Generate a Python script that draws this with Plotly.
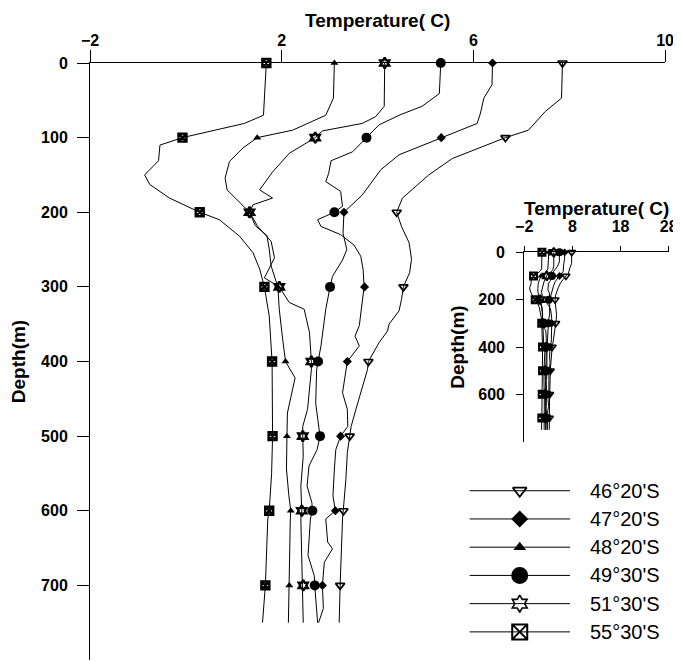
import plotly.graph_objects as go

FONT = "Arial, Liberation Sans, sans-serif"

# ---------------- data ----------------
stations = ["46°20'S", "47°20'S", "48°20'S", "49°30'S", "51°30'S", "55°30'S"]
mark_depths = [0, 100, 200, 300, 400, 500, 600, 700]

# temperatures at the marked depths (deg C)
mark_4620 = [7.86, 6.67, 4.40, 4.54, 3.81, 3.42, 3.29, 3.22]
mark_4720 = [6.40, 5.33, 3.30, 3.73, 3.37, 3.23, 3.12, 2.85]
mark_4820 = [3.10, 1.49, 1.33, 1.92, 2.08, 2.11, 2.19, 2.16]
mark_4930 = [5.32, 3.77, 3.10, 3.01, 2.76, 2.80, 2.64, 2.69]
mark_5130 = [4.15, 2.70, 1.33, 1.95, 2.62, 2.44, 2.42, 2.45]
mark_5530 = [1.68, -0.07, 0.29, 1.64, 1.80, 1.81, 1.74, 1.66]

# continuous profiles as drawn (depth m, temperature deg C)
prof_4620_d = [0, 47, 65, 90, 100, 128, 150, 181, 200, 219, 241, 263, 281, 300, 317, 332, 350, 359, 375,
               400, 411, 434, 464, 487, 500, 522, 558, 600, 611, 700, 750]
prof_4620_t = [7.86, 7.84, 7.50, 7.15, 6.67, 5.56, 5.07, 4.52, 4.40, 4.50, 4.66, 4.71, 4.67, 4.54, 4.50, 4.45, 4.24,
               4.21, 4.03, 3.81, 3.79, 3.68, 3.55, 3.45, 3.42, 3.37, 3.34, 3.29, 3.27, 3.22, 3.20]

# profile starting at 47°20'S (crosses to the 49°30'S marks below 250 m, as in the figure)
prof_4720_d = [0, 29, 47, 67, 81, 100, 123, 143, 177, 200, 228, 250, 264, 286, 300, 330, 379, 400, 411, 456,
               487, 500, 518, 540, 567, 589, 600, 611, 660, 687, 700, 750]
prof_4720_t = [6.40, 6.39, 6.22, 6.15, 6.08, 5.33, 4.45, 4.07, 3.68, 3.30, 3.28, 3.36, 3.27, 3.06, 3.01, 2.92,
               2.82, 2.76, 2.73, 2.71, 2.78, 2.80, 2.74, 2.57, 2.53, 2.63, 2.64, 2.60, 2.55, 2.68, 2.69, 2.75]

prof_4820_d = [0, 47, 70, 90, 100, 114, 132, 154, 170, 190, 200, 218, 231, 249, 272, 300, 330, 370, 400, 422,
               451, 469, 500, 544, 580, 600, 611, 700, 750]
prof_4820_t = [3.10, 3.08, 2.92, 2.23, 1.49, 1.19, 0.91, 0.82, 0.86, 1.16, 1.33, 1.45, 1.69, 1.74, 1.78, 1.92,
               1.95, 2.02, 2.08, 2.28, 2.19, 2.12, 2.11, 2.10, 2.15, 2.19, 2.18, 2.16, 2.14]

# profile starting at 49°30'S (crosses to the 47°20'S marks below 250 m, as in the figure)
prof_4930_d = [0, 41, 58, 70, 83, 100, 119, 131, 148, 159, 172, 192, 200, 210, 219, 230, 244, 259, 277, 300,
               330, 352, 366, 379, 400, 411, 442, 464, 487, 500, 518, 544, 580, 600, 611, 642, 651, 669, 700,
               731, 750]
prof_4930_t = [5.32, 5.29, 4.93, 4.45, 4.03, 3.77, 3.48, 3.03, 2.98, 2.92, 3.23, 3.27, 3.10, 2.75, 2.82, 3.23,
               3.51, 3.65, 3.70, 3.72, 3.67, 3.62, 3.53, 3.62, 3.37, 3.34, 3.27, 3.37, 3.38, 3.23, 3.13, 3.10,
               3.07, 3.12, 2.92, 2.96, 3.06, 2.89, 2.85, 2.87, 2.77]

prof_5130_d = [0, 58, 72, 81, 91, 100, 121, 146, 170, 181, 190, 200, 219, 239, 261, 288, 300, 321, 330, 361,
               400, 411, 464, 487, 500, 527, 567, 600, 611, 700, 750]
prof_5130_t = [4.15, 4.14, 3.96, 3.68, 2.85, 2.70, 2.16, 1.81, 1.54, 1.81, 1.40, 1.33, 1.50, 1.78, 1.85, 1.64,
               1.95, 2.16, 2.47, 2.58, 2.62, 2.62, 2.54, 2.44, 2.44, 2.45, 2.40, 2.42, 2.40, 2.44, 2.45]

prof_5530_d = [0, 30, 70, 81, 100, 110, 131, 150, 163, 181, 200, 210, 232, 254, 276, 300, 339, 400, 450, 500,
               550, 600, 611, 700, 750]
prof_5530_t = [1.68, 1.66, 1.62, 1.22, -0.07, -0.54, -0.57, -0.86, -0.75, -0.34, 0.29, 0.70, 1.12, 1.40, 1.54,
               1.64, 1.74, 1.80, 1.80, 1.81, 1.79, 1.74, 1.71, 1.66, 1.60]

main_xticks = [-2, 2, 6, 10]
main_yticks = [0, 100, 200, 300, 400, 500, 600, 700]
inset_xticks = [-2, 8, 18, 28]
inset_yticks = [0, 200, 400, 600]

# ---------------- styles ----------------
marks = [mark_4620, mark_4720, mark_4820, mark_4930, mark_5130, mark_5530]
profiles = [(prof_4620_d, prof_4620_t), (prof_4720_d, prof_4720_t), (prof_4820_d, prof_4820_t),
            (prof_4930_d, prof_4930_t), (prof_5130_d, prof_5130_t), (prof_5530_d, prof_5530_t)]
symbols = ["triangle-down-open", "diamond", "triangle-up", "circle", "hexagram-open", "square-x-open"]
size_main = [8, 7, 7, 10, 8, 8]
size_inset = [7, 6, 6, 8, 7, 7]
size_leg = [12, 13, 11, 17, 13, 15]
lw_main = [1.7, 0, 0, 0, 2.4, 2.4]
lw_inset = [1.5, 0, 0, 0, 2, 2]
lw_leg = [1.8, 0, 0, 0, 1.6, 2]

fig = go.Figure()

for (xa, ya, sizes, lws) in [("x", "y", size_main, lw_main), ("x2", "y2", size_inset, lw_inset)]:
    for (d, t) in profiles:
        fig.add_trace(go.Scatter(x=t, y=d, mode="lines", xaxis=xa, yaxis=ya,
                                 line=dict(color="black", width=1), showlegend=False,
                                 hoverinfo="skip"))
    for i, m in enumerate(marks):
        fig.add_trace(go.Scatter(x=m, y=mark_depths, mode="markers", xaxis=xa, yaxis=ya,
                                 name=stations[i], showlegend=False, cliponaxis=False,
                                 marker=dict(symbol=symbols[i], size=sizes[i], color="black",
                                             line=dict(color="black", width=lws[i]))))

# legend drawn as line + marker + label
for i, s in enumerate(stations):
    fig.add_trace(go.Scatter(x=[0, 1], y=[i, i], mode="lines", xaxis="x3", yaxis="y3",
                             line=dict(color="black", width=1), showlegend=False, hoverinfo="skip"))
    fig.add_trace(go.Scatter(x=[0.5], y=[i], mode="markers", xaxis="x3", yaxis="y3",
                             showlegend=False, cliponaxis=False, hoverinfo="skip",
                             marker=dict(symbol=symbols[i], size=size_leg[i], color="black",
                                         line=dict(color="black", width=lw_leg[i]))))
    fig.add_annotation(x=1.181, y=i, xref="x3", yref="y3", text=s, showarrow=False,
                       xanchor="left", yanchor="middle",
                       font=dict(family=FONT, size=20, color="black"))

tickfont = dict(family=FONT, size=16, color="black", weight="bold")
titlefont = dict(family=FONT, size=19, color="black", weight="bold")
axis_common = dict(showline=True, linecolor="black", linewidth=1, showgrid=False, zeroline=False,
                   ticks="outside", tickcolor="black", tickwidth=1, tickfont=tickfont, tickmode="array")

# axis titles on top (temperature) placed above the tick labels
fig.add_annotation(x=4, y=0, xref="x", yref="y", text="Temperature( C)", showarrow=False,
                   xanchor="center", yanchor="middle", yshift=43, font=titlefont)
fig.add_annotation(x=13, y=0, xref="x2", yref="y2", text="Temperature( C)", showarrow=False,
                   xanchor="center", yanchor="middle", yshift=44, font=titlefont)

fig.update_layout(
    width=673, height=653,
    margin=dict(l=82, r=8, t=55, b=1, pad=0),
    paper_bgcolor="white", plot_bgcolor="white",
    showlegend=False,
    xaxis=dict(domain=[0, 577 / 583], range=[-2, 10], side="top", anchor="y",
               tickvals=main_xticks, ticklen=12, ticklabelstandoff=-2, **axis_common),
    yaxis=dict(domain=[0, 1], range=[800, 0], anchor="x", tickvals=main_yticks, ticklen=12,
               ticklabelstandoff=6,
               title=dict(text="Depth(m)", font=titlefont, standoff=12), **axis_common),
    xaxis2=dict(domain=[0.74734, 0.99605], range=[-2, 28], side="top", anchor="y2",
                tickvals=inset_xticks, ticklen=5, ticklabelstandoff=8, **axis_common),
    yaxis2=dict(domain=[0.36566, 0.6829], range=[800, 0], anchor="x2", tickvals=inset_yticks,
                ticklen=7, ticklabelstandoff=8,
                title=dict(text="Depth(m)", font=titlefont, standoff=8), **axis_common),
    xaxis3=dict(domain=[0.6530, 1.0], range=[0, 2.003], visible=False, anchor="y3"),
    yaxis3=dict(domain=[0.02345, 0.3072], range=[5.5, -0.5], visible=False, anchor="x3"),
)

fig.write_html("out.html")
